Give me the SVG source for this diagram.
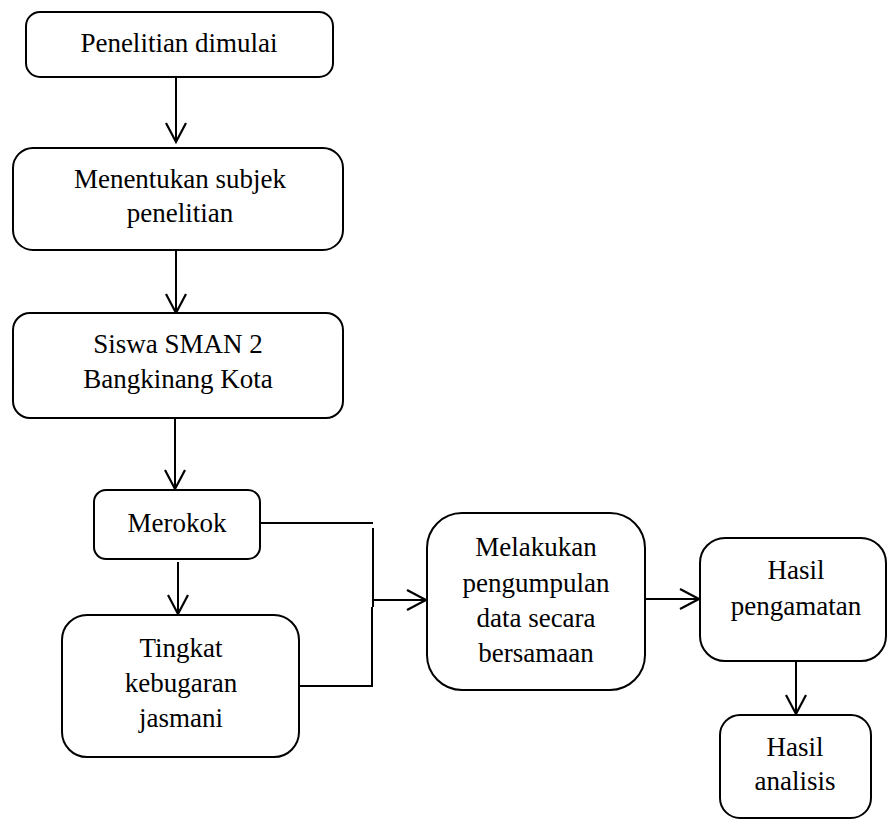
<svg xmlns="http://www.w3.org/2000/svg" width="888" height="820" viewBox="0 0 888 820">
<defs>
<style>
.box{fill:#fff;stroke:#000;stroke-width:2}
.t{font-size:27px;fill:#000;text-anchor:middle}
.c{fill:none;stroke:#000;stroke-width:2}
</style>
<marker id="ah" markerWidth="24" markerHeight="24" refX="20" refY="12" orient="auto" markerUnits="userSpaceOnUse">
<path d="M1,2 L20,12 L1,22" fill="none" stroke="#000" stroke-width="2.2"/>
</marker>
</defs>
<rect width="888" height="820" fill="#fff"/>
<g id="connectors">
<path class="c" d="M176,77 V142" marker-end="url(#ah)"/>
<path class="c" d="M176,250 V313" marker-end="url(#ah)"/>
<path class="c" d="M175,418 V489" marker-end="url(#ah)"/>
<path class="c" d="M178,562 V614" marker-end="url(#ah)"/>
<path class="c" d="M260,523 H373"/>
<path class="c" d="M373,528 V607"/>
<path class="c" d="M372,607 V686 H299"/>
<path class="c" d="M373,600 H426" marker-end="url(#ah)"/>
<path class="c" d="M645,599 H699" marker-end="url(#ah)"/>
<path class="c" d="M796,661 V714" marker-end="url(#ah)"/>
</g>
<g font-family="'Liberation Serif', 'DejaVu Serif', serif">
<g id="n1"><rect class="box" x="26" y="12" width="307" height="65" rx="14"/><text class="t" x="179" y="52">Penelitian dimulai</text></g>
<g id="n2"><rect class="box" x="13" y="148" width="330" height="102" rx="20"/><text class="t" x="180" y="188">Menentukan subjek</text><text class="t" x="180" y="222">penelitian</text></g>
<g id="n3"><rect class="box" x="13" y="313" width="330" height="105" rx="17"/><text class="t" x="178" y="353">Siswa SMAN 2</text><text class="t" x="178" y="388">Bangkinang Kota</text></g>
<g id="n4"><rect class="box" x="94" y="490" width="166" height="69" rx="12"/><text class="t" x="177" y="532">Merokok</text></g>
<g id="n5"><rect class="box" x="62" y="615" width="237" height="142" rx="25"/><text class="t" x="181" y="657">Tingkat</text><text class="t" x="181" y="692">kebugaran</text><text class="t" x="181" y="727">jasmani</text></g>
<g id="n6"><rect class="box" x="427" y="513" width="218" height="177" rx="35"/><text class="t" x="536" y="556">Melakukan</text><text class="t" x="536" y="592">pengumpulan</text><text class="t" x="536" y="627">data secara</text><text class="t" x="536" y="662">bersamaan</text></g>
<g id="n7"><rect class="box" x="700" y="538" width="186" height="123" rx="25"/><text class="t" x="796" y="579">Hasil</text><text class="t" x="796" y="615">pengamatan</text></g>
<g id="n8"><rect class="box" x="720" y="715" width="151" height="103" rx="20"/><text class="t" x="795" y="756">Hasil</text><text class="t" x="795" y="790">analisis</text></g>
</g>
</svg>
